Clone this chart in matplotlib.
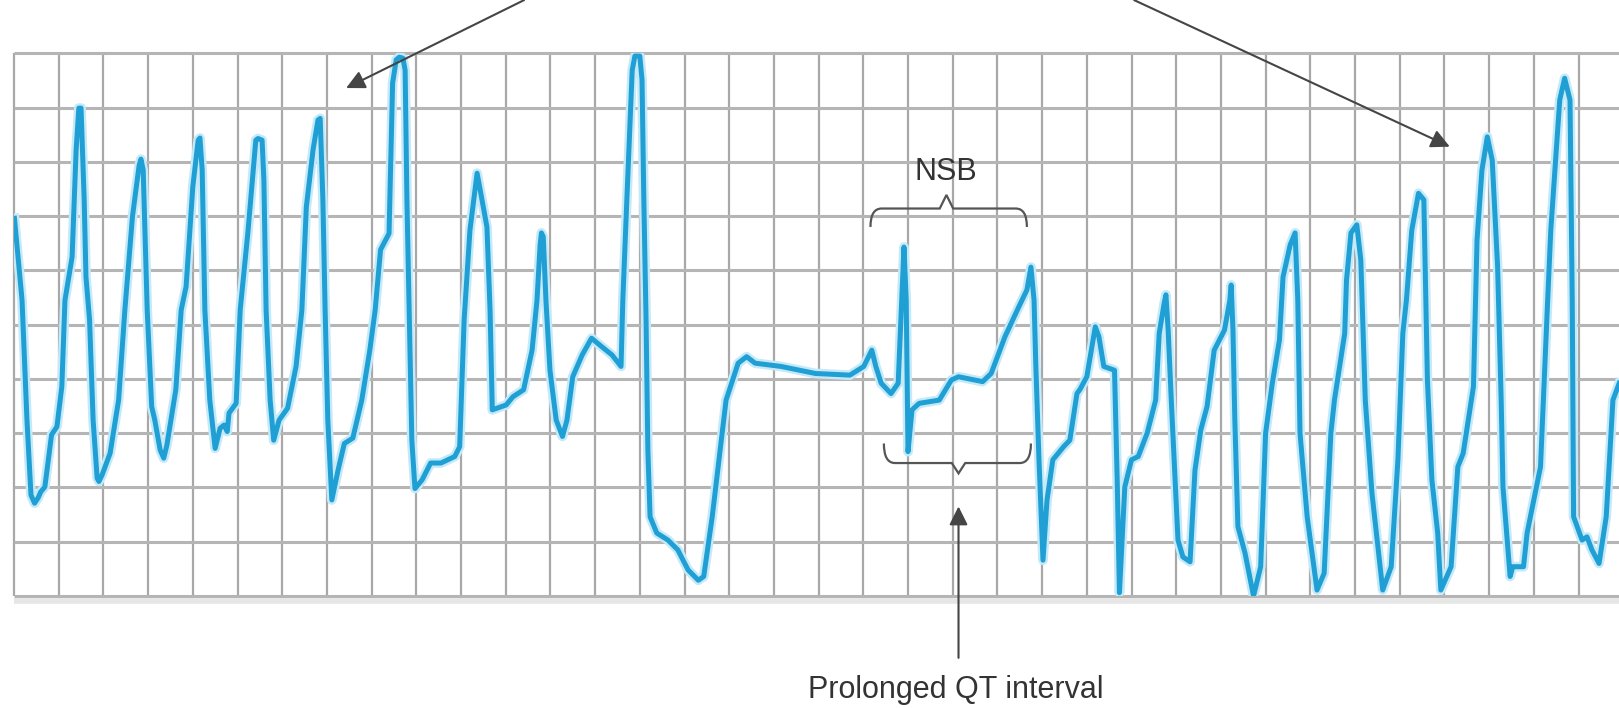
import matplotlib.pyplot as plt
from matplotlib.path import Path
from matplotlib.patches import PathPatch

# ECG strip in grid boxes (x: boxes of time, y: boxes of amplitude)
t_box = [0.01, 0.18, 0.29, 0.38, 0.46, 0.54, 0.60, 0.69, 0.84, 0.96, 1.07, 1.14, 1.30, 1.39, 1.45, 1.50,
         1.57, 1.61, 1.69, 1.77, 1.86, 1.90, 1.97, 2.15, 2.34, 2.48, 2.65, 2.80, 2.84, 2.89, 2.98, 3.08,
         3.15, 3.27, 3.35, 3.42, 3.62, 3.74, 3.85, 4.00, 4.12, 4.16, 4.21, 4.27, 4.38, 4.50, 4.61, 4.70,
         4.77, 4.81, 4.97, 5.06, 5.23, 5.41, 5.46, 5.55, 5.59, 5.64, 5.73, 5.81, 5.93, 6.12, 6.31, 6.44,
         6.54, 6.69, 6.80, 6.85, 6.91, 6.96, 7.02, 7.11, 7.25, 7.39, 7.58, 7.78, 7.96, 8.08, 8.20, 8.39,
         8.47, 8.55, 8.62, 8.70, 8.75, 8.79, 8.84, 8.90, 8.97, 9.13, 9.32, 9.55, 9.86, 9.97, 10.07, 10.20,
         10.36, 10.43, 10.58, 10.65, 10.70, 11.01, 11.16, 11.40, 11.59, 11.70, 11.77, 11.80, 11.84, 11.90,
         11.99, 12.13, 12.27, 12.37, 12.50, 12.71, 12.92, 13.11, 13.38, 13.58, 13.62, 13.71, 13.83, 13.89,
         14.00, 14.05, 14.09, 14.14, 14.18, 14.23, 14.38, 14.63, 14.85, 15.08, 15.31, 15.43, 15.62, 15.93,
         16.20, 16.39, 16.58, 17.16, 17.93, 18.70, 19.01, 19.19, 19.28, 19.40, 19.62, 19.78, 19.84, 19.91,
         19.96, 20.00, 20.09, 20.25, 20.70, 20.97, 21.13, 21.67, 21.86, 22.17, 22.48, 22.66, 22.75, 22.82,
         22.86, 22.93, 23.02, 23.11, 23.24, 23.48, 23.62, 23.78, 23.85, 24.00, 24.14, 24.19, 24.27, 24.38,
         24.62, 24.68, 24.73, 24.85, 25.00, 25.15, 25.35, 25.54, 25.62, 25.73, 25.77, 25.82, 25.89, 26.04,
         26.15, 26.31, 26.42, 26.55, 26.69, 26.85, 27.08, 27.20, 27.23, 27.27, 27.31, 27.38, 27.54, 27.73,
         27.89, 28.00, 28.15, 28.31, 28.39, 28.55, 28.66, 28.72, 28.77, 28.93, 29.15, 29.31, 29.46, 29.54,
         29.77, 29.81, 29.91, 30.04, 30.13, 30.23, 30.38, 30.62, 30.81, 30.96, 31.07, 31.15, 31.27, 31.42,
         31.54, 31.62, 31.72, 31.85, 31.92, 32.15, 32.30, 32.42, 32.65, 32.73, 32.84, 32.96, 33.07, 33.19,
         33.27, 33.31, 33.47, 33.53, 33.77, 33.85, 34.15, 34.31, 34.38, 34.58, 34.69, 34.81, 34.86, 34.89,
         35.08, 35.19, 35.30, 35.46, 35.62, 35.77, 35.91]
amp_box = [6.96, 5.45, 3.24, 1.86, 1.71, 1.81, 1.92, 2.01, 2.97, 3.12, 3.86, 5.45, 6.25, 8.22, 8.99, 8.99,
           7.30, 5.88, 5.09, 3.24, 2.17, 2.11, 2.23, 2.63, 3.61, 5.27, 6.99, 7.94, 8.05, 7.85, 5.27, 3.49,
           3.24, 2.69, 2.54, 2.78, 3.80, 5.27, 5.70, 7.54, 8.40, 8.44, 7.85, 5.27, 3.61, 2.72, 3.09, 3.15,
           3.03, 3.37, 3.55, 5.27, 6.68, 8.40, 8.43, 8.40, 7.67, 5.27, 3.61, 2.87, 3.24, 3.46, 4.23, 5.27,
           7.17, 8.22, 8.77, 8.80, 7.30, 5.27, 3.24, 1.77, 2.32, 2.81, 2.91, 3.61, 4.53, 5.27, 6.38, 6.68,
           9.45, 9.88, 9.93, 9.91, 9.69, 7.30, 5.27, 2.87, 1.98, 2.14, 2.45, 2.45, 2.57, 2.75, 5.09, 6.74,
           7.79, 7.48, 6.80, 5.27, 3.43, 3.52, 3.67, 3.80, 4.53, 5.45, 6.47, 6.69, 6.62, 5.45,
           4.16, 3.24, 2.94, 3.24, 4.04, 4.44, 4.75, 4.62, 4.44, 4.23, 5.45, 7.30, 9.69, 9.95,
           9.95, 9.51, 7.30, 5.09, 2.69, 1.46, 1.16, 1.03, 0.85, 0.48, 0.29, 0.36, 1.46, 3.61,
           4.29, 4.41, 4.29, 4.23, 4.10, 4.07, 4.23, 4.53, 4.23, 3.92, 3.73, 3.92, 5.09, 6.43,
           5.45, 2.66, 3.43, 3.55, 3.61, 3.98, 4.04, 3.95, 4.10, 4.78, 5.33, 5.64, 6.06, 5.45,
           4.23, 2.51, 0.66, 1.77, 2.51, 2.75, 2.87, 3.73, 3.81, 4.04, 4.72, 4.96, 4.78, 4.23,
           4.16, 2.14, 0.06, 2.01, 2.51, 2.57, 3.00, 3.61, 4.84, 5.39, 5.55, 4.90, 3.61, 1.03,
           0.72, 0.63, 2.32, 3.06, 3.49, 4.53, 4.90, 5.45, 5.73, 4.90, 3.30, 1.28, 0.79, 0.00,
           0.54, 3.00, 3.92, 4.72, 5.88, 6.47, 6.69, 5.45, 3.00, 1.46, 0.11, 0.42, 3.00, 3.61,
           4.84, 5.82, 6.69, 6.84, 6.19, 3.61, 1.89, 0.11, 0.54, 2.51, 4.84, 5.45, 6.74, 7.42,
           7.30, 3.98, 2.14, 1.16, 0.11, 0.54, 2.38, 2.63, 3.86, 6.56, 7.85, 8.46, 8.03, 6.07,
           3.61, 2.01, 0.36, 0.54, 0.54, 1.16, 2.38, 5.45, 6.74, 9.14, 9.54, 9.14, 5.45, 1.46,
           1.03, 1.09, 0.85, 0.60, 1.46, 3.61, 3.92]

n_cols = 36
n_rows = 11
grey_text = '#333333'
label_font = ['Liberation Sans', 'DejaVu Sans']

fig = plt.figure(figsize=(16.19, 7.08), dpi=100)
ax = fig.add_axes([0.00865, 0.1582, 0.99135, 0.7665])
ax.set_xlim(0, 35.906)
ax.set_ylim(0, 10)
ax.axis('off')

# paper grid
ax.vlines(range(n_cols), 0, 10, color='#a8a8a8', lw=1.6, zorder=1, clip_on=False)
ax.hlines(range(n_rows), 0, 36, color='#b5b5b5', lw=2.2, zorder=1, clip_on=False)
ax.hlines(-0.09, 0, 36, color='#e6e6e6', lw=4, zorder=0, clip_on=False)

# trace
ax.plot(t_box, amp_box, color='#c4e9f8', lw=7, zorder=2, solid_joinstyle='round')
ax.plot(t_box, amp_box, color='#1f9fd4', lw=3.6, zorder=3, solid_joinstyle='round')


def brace(x0, x1, xm, y, depth, tip, ax):
    # curly brace, ends bent by depth, middle point pushed by tip
    verts = [(x0, y - depth), (x0, y), (x0 + 0.25, y),
             (xm - 0.15, y), (xm, y + tip), (xm + 0.15, y),
             (x1 - 0.25, y), (x1, y), (x1, y - depth)]
    codes = [Path.MOVETO, Path.CURVE3, Path.CURVE3,
             Path.LINETO, Path.LINETO, Path.LINETO,
             Path.LINETO, Path.CURVE3, Path.CURVE3]
    ax.add_patch(PathPatch(Path(verts, codes), fc='none', ec='#555555', lw=1.6, zorder=4))


brace(19.16, 22.66, 20.86, 7.14, 0.34, 0.25, ax)
brace(19.46, 22.75, 21.13, 2.45, -0.36, -0.19, ax)

ax.text(20.84, 7.82, 'NSB', ha='center', va='center', fontsize=22, color=grey_text,
        family=label_font, zorder=5)

arrow = dict(arrowstyle='-|>', color='#454545', lw=1.5, mutation_scale=28, shrinkA=0, shrinkB=0)
ax.annotate('', xy=(21.13, 1.65), xytext=(21.13, -1.14), arrowprops=arrow, annotation_clip=False)
ax.annotate('', xy=(7.43, 9.36), xytext=(11.41, 10.98), arrowprops=arrow, annotation_clip=False)
ax.annotate('', xy=(32.12, 8.28), xytext=(25.06, 10.98), arrowprops=arrow, annotation_clip=False)

ax.text(21.07, -1.88, 'Prolonged QT interval', ha='center', va='baseline', fontsize=22,
        color=grey_text, family=label_font, clip_on=False)

plt.savefig('out.png', dpi=100)
